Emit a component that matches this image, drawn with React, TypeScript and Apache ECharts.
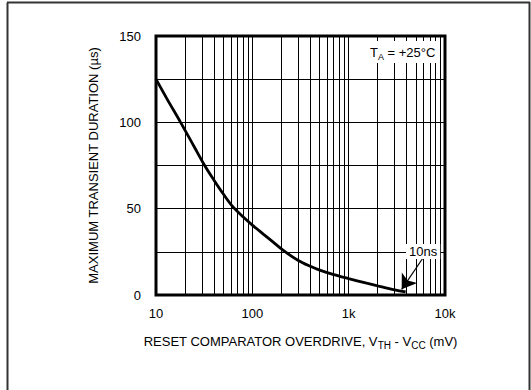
import React, { useEffect, useRef } from "react";
import * as echarts from "echarts";

const curveX = [10, 13, 18, 25, 32, 40, 50, 63, 80, 100, 130, 160, 213, 300, 400, 500, 700, 1000, 1500, 2000, 3000, 3900];
const curveY = [125, 113.6, 100, 85.7, 75, 66.5, 58.5, 51, 45.3, 40.5, 35.3, 31.2, 25.5, 20, 16.6, 14.4, 11.8, 9.5, 7, 5.3, 3, 1.8];
const minorGridX = [20, 30, 40, 50, 60, 70, 80, 90, 200, 300, 400, 500, 600, 700, 800, 900, 2000, 3000, 4000, 5000, 6000, 7000, 8000, 9000];
const arrowFrom = [6000, 22];
const arrowTo = [3550, 3.3];

const FONT = '"Liberation Sans", Arial, Helvetica, sans-serif';

export default function App() {
  const ref = useRef<HTMLDivElement>(null);
  useEffect(() => {
    document.body.style.margin = "0";
    const chart = echarts.init(ref.current!, null, { renderer: "svg" });
    const option: any = {
      animation: false,
      textStyle: { fontFamily: FONT },
      grid: { left: 156, right: 86, top: 36, bottom: 95, show: true, borderColor: "#000", borderWidth: 3, backgroundColor: "transparent" },
      xAxis: {
        type: "log",
        logBase: 10,
        min: 10,
        max: 10000,
        axisLine: { show: false },
        axisTick: { show: false },
        splitLine: { show: true, lineStyle: { color: "#000", width: 1 } },
        axisLabel: {
          color: "#000",
          fontSize: 13,
          fontFamily: FONT,
          margin: 12,
          formatter: (v: number) => (v >= 1000 ? v / 1000 + "k" : String(v)),
        },
        name: "RESET COMPARATOR OVERDRIVE, V{s|TH} - V{s|CC} (mV)",
        nameLocation: "middle",
        nameGap: 38,
        nameTextStyle: {
          color: "#000",
          fontSize: 13,
          fontFamily: FONT,
          lineHeight: 17,
          rich: {
            s: { fontSize: 10, fontFamily: FONT, color: "#000", verticalAlign: "bottom", lineHeight: 10 },
          },
        },
      },
      yAxis: {
        type: "value",
        min: 0,
        max: 150,
        interval: 25,
        axisLine: { show: false },
        axisTick: { show: false },
        splitLine: { show: true, lineStyle: { color: "#000", width: 1 } },
        axisLabel: {
          color: "#000",
          fontSize: 13,
          fontFamily: FONT,
          margin: 15,
          formatter: (v: number) => (v % 50 === 0 ? String(v) : ""),
        },
        name: "MAXIMUM TRANSIENT DURATION (µs)",
        nameLocation: "middle",
        nameRotate: 90,
        nameGap: 56,
        nameTextStyle: { color: "#000", fontSize: 13, fontFamily: FONT },
      },
      series: [
        {
          type: "line",
          data: [],
          z: 1,
          silent: true,
          markLine: {
            silent: true,
            symbol: ["none", "none"],
            label: { show: false },
            lineStyle: { color: "#000", width: 1, type: "solid" },
            emphasis: { disabled: true },
            data: minorGridX.map((v) => ({ xAxis: v })),
          },
        },
        {
          type: "line",
          z: 3,
          data: curveX.map((x, i) => [x, curveY[i]]),
          showSymbol: false,
          smooth: 0.35,
          lineStyle: { color: "#000", width: 2.8 },
          silent: true,
        },
        {
          type: "line",
          z: 4,
          data: [],
          silent: true,
          markLine: {
            silent: true,
            symbol: ["none", "arrow"],
            symbolSize: 14,
            label: { show: false },
            lineStyle: { color: "#000", width: 1.2, type: "solid" },
            emphasis: { disabled: true },
            data: [[{ coord: arrowFrom }, { coord: arrowTo }]],
          },
        },
      ],
      graphic: [
        { type: "line", z: 100, shape: { x1: 7.5, y1: 2.5, x2: 7.5, y2: 390 }, style: { stroke: "#333", lineWidth: 2 } },
        { type: "line", z: 100, shape: { x1: 7, y1: 2.5, x2: 530, y2: 2.5 }, style: { stroke: "#333", lineWidth: 2 } },
        { type: "line", z: 100, shape: { x1: 529.5, y1: 2, x2: 529.5, y2: 390 }, style: { stroke: "#333", lineWidth: 2 } },
        {
          type: "text",
          z: 100,
          x: 366,
          y: 41,
          style: {
            text: "{a|T}{b|A}{a| = +25°C}",
            backgroundColor: "#fff",
            padding: [3, 4, 2, 4],
            rich: {
              a: { fontSize: 13, fontFamily: FONT, fill: "#000", lineHeight: 17 },
              b: { fontSize: 9, fontFamily: FONT, fill: "#000", verticalAlign: "bottom", lineHeight: 10 },
            },
          },
        },
        {
          type: "text",
          z: 100,
          x: 406,
          y: 244,
          style: {
            text: "10ns",
            font: `13px ${FONT}`,
            fill: "#000",
            backgroundColor: "#fff",
            padding: [1, 3, 1, 3],
          },
        },
      ],
    };
    chart.setOption(option);
    return () => chart.dispose();
  }, []);
  return <div ref={ref} style={{ width: 531, height: 390, position: "absolute", left: 0, top: 0 }} />;
}
